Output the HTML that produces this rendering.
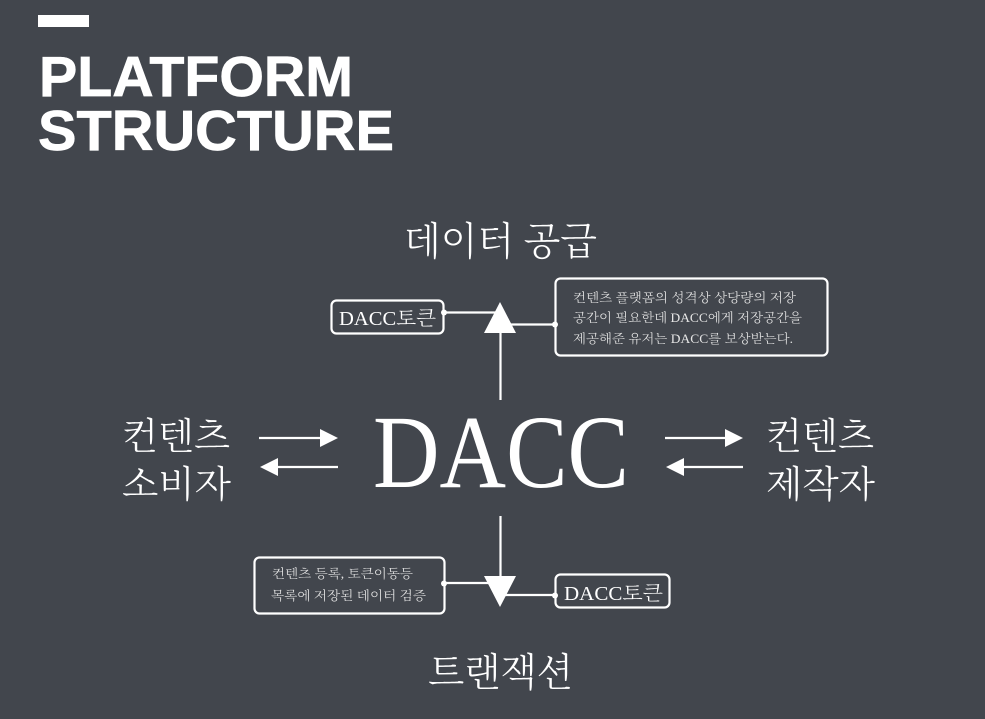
<!DOCTYPE html>
<html><head><meta charset="utf-8"><style>
html,body{margin:0;padding:0;background:#42464d}
svg{display:block}
.k{font-family:"Liberation Serif","Noto Serif CJK KR","Noto Serif CJK SC",serif;fill:#fff;font-weight:300}
.t{font-family:"Liberation Sans",sans-serif;font-weight:700;fill:#fff;font-size:57px;stroke:#fff;stroke-width:.7}
</style></head><body>
<svg width="985" height="719" viewBox="0 0 985 719" xmlns="http://www.w3.org/2000/svg">
<rect width="985" height="719" fill="#42464d"/>
<rect x="38" y="15" width="51" height="12" fill="#fff"/>
<text class="t" x="39" y="96" textLength="314" lengthAdjust="spacingAndGlyphs">PLATFORM</text>
<text class="t" x="38" y="150" textLength="356" lengthAdjust="spacingAndGlyphs">STRUCTURE</text>

<text class="k" x="404" y="255" font-size="39" textLength="193" lengthAdjust="spacingAndGlyphs">데이터 공급</text>
<text class="k" x="428" y="686" font-size="39" textLength="145" lengthAdjust="spacingAndGlyphs">트랜잭션</text>
<text class="k" x="373" y="487" font-size="104" textLength="256" lengthAdjust="spacingAndGlyphs">DACC</text>

<text class="k" x="122" y="449" font-size="37" textLength="108" lengthAdjust="spacingAndGlyphs">컨텐츠</text>
<text class="k" x="122" y="497" font-size="37" textLength="109" lengthAdjust="spacingAndGlyphs">소비자</text>
<text class="k" x="766" y="449" font-size="37" textLength="108" lengthAdjust="spacingAndGlyphs">컨텐츠</text>
<text class="k" x="766" y="497" font-size="37" textLength="109" lengthAdjust="spacingAndGlyphs">제작자</text>

<g stroke="#fff" stroke-width="2.2" fill="none">
<path d="M259 438H322M338 467H277"/>
<path d="M665 438H728M743 467H683"/>
<path d="M500.500 400V330M500.500 516V580"/>
<path d="M444 312.500H500M500 324.500H555"/>
<path d="M444 583H500M500 595H555"/>
<rect x="331.500" y="300.500" width="112" height="33" rx="5"/>
<rect x="555.500" y="278.500" width="272" height="77" rx="5"/>
<rect x="254.500" y="557.500" width="190" height="56" rx="5"/>
<rect x="555.500" y="574.500" width="114" height="33" rx="5"/>
</g>
<g fill="#fff">
<path d="M320 429L338 438L320 447Z"/>
<path d="M260 467L278 458L278 476Z"/>
<path d="M743 438L725 429L725 447Z"/>
<path d="M666 467L684 458L684 476Z"/>
<path d="M500 302L516 333H484Z"/>
<path d="M484 576H516L500 607Z"/>
<circle cx="444" cy="312.500" r="3"/>
<circle cx="555" cy="324.500" r="3"/>
<circle cx="444" cy="583.500" r="3"/>
<circle cx="555" cy="595.500" r="3"/>
</g>

<text class="k" x="339" y="325" font-size="20" textLength="97" lengthAdjust="spacingAndGlyphs">DACC토큰</text>
<text class="k" x="564" y="600" font-size="20" textLength="99" lengthAdjust="spacingAndGlyphs">DACC토큰</text>

<g>
<text class="k" x="573" y="302" font-size="12.500" textLength="223" lengthAdjust="spacingAndGlyphs" style="fill:#e6e6e6">컨텐츠 플랫폼의 성격상 상당량의 저장</text>
<text class="k" x="573" y="322" font-size="12.500" textLength="229" lengthAdjust="spacingAndGlyphs" style="fill:#e6e6e6">공간이 필요한데 DACC에게 저장공간을</text>
<text class="k" x="573" y="343" font-size="12.500" textLength="220" lengthAdjust="spacingAndGlyphs" style="fill:#e6e6e6">제공해준 유저는 DACC를 보상받는다.</text>
<text class="k" x="272" y="578" font-size="12.500" textLength="141" lengthAdjust="spacingAndGlyphs" style="fill:#e6e6e6">컨텐츠 등록, 토큰이동등</text>
<text class="k" x="271" y="600" font-size="12.500" textLength="155" lengthAdjust="spacingAndGlyphs" style="fill:#e6e6e6">목록에 저장된 데이터 검증</text>
</g>
</svg>
</body></html>
